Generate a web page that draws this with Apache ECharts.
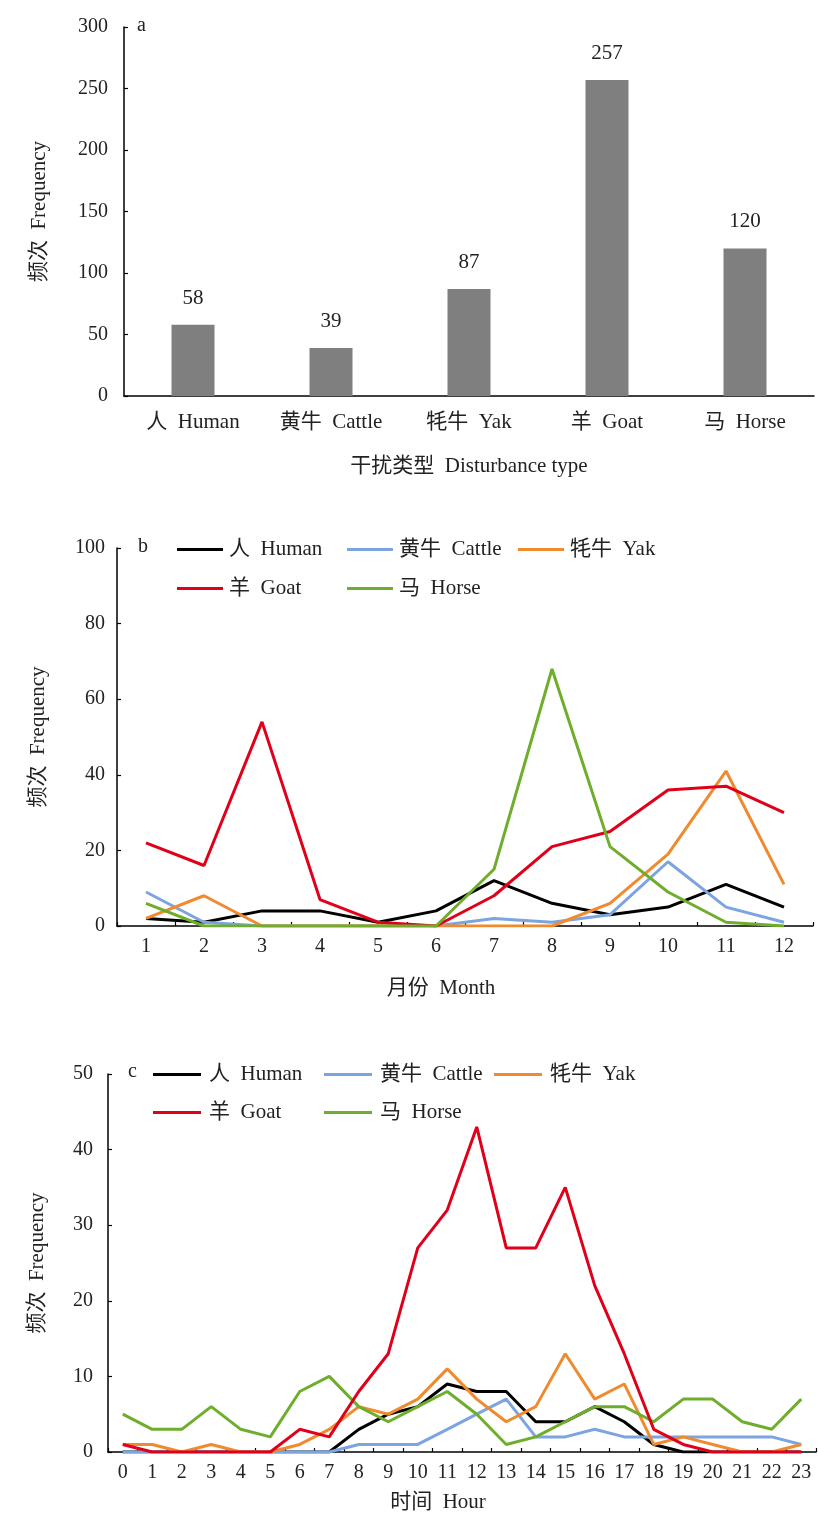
<!DOCTYPE html>
<html>
<head>
<meta charset="utf-8">
<script src="https://cdn.jsdelivr.net/npm/echarts@6/dist/echarts.min.js"></script>
<style>
  html, body { margin: 0; padding: 0; background: #ffffff; }
  #chart { width: 818px; height: 1520px; }
</style>
</head>
<body>
<div id="chart"></div>
<script>
// Disturbance types and total detections (panel a)
const typeLabels = ['人  Human', '黄牛  Cattle', '牦牛  Yak', '羊  Goat', '马  Horse'];
const typeTotals = [58, 39, 87, 257, 120];

// Series names and colours shared by panels b and c
const seriesNames = ['人  Human', '黄牛  Cattle', '牦牛  Yak', '羊  Goat', '马  Horse'];
const seriesColors = ['#000000', '#7ba4e0', '#f08a2e', '#e0001a', '#6fae2c'];

// Monthly frequency (panel b)
const months = ['1', '2', '3', '4', '5', '6', '7', '8', '9', '10', '11', '12'];
const monthHuman  = [2, 1, 4, 4, 1, 4, 12, 6, 3, 5, 11, 5];
const monthCattle = [9, 1, 0, 0, 0, 0, 2, 1, 3, 17, 5, 1];
const monthYak    = [2, 8, 0, 0, 0, 0, 0, 0, 6, 19, 41, 11];
const monthGoat   = [22, 16, 54, 7, 1, 0, 8, 21, 25, 36, 37, 30];
const monthHorse  = [6, 0, 0, 0, 0, 0, 15, 68, 21, 9, 1, 0];

// Hourly frequency (panel c)
const hours = ['0','1','2','3','4','5','6','7','8','9','10','11','12','13','14','15','16','17','18','19','20','21','22','23'];
const hourHuman  = [0, 0, 0, 0, 0, 0, 0, 0, 3, 5, 6, 9, 8, 8, 4, 4, 6, 4, 1, 0, 0, 0, 0, 0];
const hourCattle = [0, 0, 0, 0, 0, 0, 0, 0, 1, 1, 1, 3, 5, 7, 2, 2, 3, 2, 2, 2, 2, 2, 2, 1];
const hourYak    = [1, 1, 0, 1, 0, 0, 1, 3, 6, 5, 7, 11, 7, 4, 6, 13, 7, 9, 1, 2, 1, 0, 0, 1];
const hourGoat   = [1, 0, 0, 0, 0, 0, 3, 2, 8, 13, 27, 32, 43, 27, 27, 35, 22, 13, 3, 1, 0, 0, 0, 0];
const hourHorse  = [5, 3, 3, 6, 3, 2, 8, 10, 6, 4, 6, 8, 5, 1, 2, 4, 6, 6, 4, 7, 7, 4, 3, 7];

const FONT = "'Liberation Serif', 'Noto Sans CJK SC', serif";
const TEXT = '#222222';

const monthSeries = [monthHuman, monthCattle, monthYak, monthGoat, monthHorse];
const hourSeries = [hourHuman, hourCattle, hourYak, hourGoat, hourHorse];

function axisLine() {
  return { show: true, lineStyle: { color: '#000', width: 1.5 } };
}

function valueAxis(gridIndex, max, interval, nameGap, labelMargin) {
  return {
    type: 'value', gridIndex, min: 0, max, interval,
    name: '频次  Frequency', nameLocation: 'middle', nameGap,
    nameTextStyle: { fontFamily: FONT, fontSize: 21, color: TEXT },
    axisLine: axisLine(),
    axisTick: { show: true, inside: true, length: 4, lineStyle: { color: '#000', width: 1.2 } },
    axisLabel: { fontFamily: FONT, fontSize: 20, color: TEXT, margin: labelMargin },
    splitLine: { show: false }
  };
}

function categoryAxis(gridIndex, data, name, nameGap, showTick, namePad) {
  return {
    type: 'category', gridIndex, data, boundaryGap: true,
    name, nameLocation: 'middle', nameGap,
    nameTextStyle: { fontFamily: FONT, fontSize: 21, color: TEXT, padding: namePad },
    axisLine: axisLine(),
    axisTick: { show: showTick, inside: true, length: 4, lineStyle: { color: '#000', width: 1.2 } },
    axisLabel: { fontFamily: FONT, fontSize: showTick ? 20 : 21, color: TEXT, margin: showTick ? 11 : 16, interval: 0 }
  };
}

function legendItem(idx, left, rowY, iconW, textGap) {
  return {
    data: [seriesNames[idx]], left, top: rowY - 11,
    icon: 'rect', itemWidth: iconW, itemHeight: 3, itemGap: 0, padding: 0,
    selectedMode: false,
    textStyle: { fontFamily: FONT, fontSize: 21, color: TEXT, padding: [0, 0, 0, textGap - 5] }
  };
}

const lineSeries = [];
// panel b: horse drawn last
[0, 1, 2, 3, 4].forEach(i => {
  lineSeries.push({
    type: 'line', name: seriesNames[i], xAxisIndex: 1, yAxisIndex: 1,
    data: monthSeries[i], symbol: 'none', color: seriesColors[i],
    lineStyle: { width: 3, color: seriesColors[i] }, z: 2 + i
  });
});
// panel c: goat drawn last
[0, 1, 2, 4, 3].forEach((i, k) => {
  lineSeries.push({
    type: 'line', name: seriesNames[i], xAxisIndex: 2, yAxisIndex: 2,
    data: hourSeries[i], symbol: 'none', color: seriesColors[i],
    lineStyle: { width: 3, color: seriesColors[i] }, z: 2 + k
  });
});

const option = {
  backgroundColor: '#ffffff',
  animation: false,
  grid: [
    { left: 124, width: 690, top: 27, height: 369 },
    { left: 117, width: 696, top: 548, height: 378 },
    { left: 108, width: 708, top: 1074, height: 378 }
  ],
  xAxis: [
    categoryAxis(0, typeLabels, '干扰类型  Disturbance type', 60, false, [0, 0, 0, 0]),
    categoryAxis(1, months, '月份  Month', 52, true, [0, 48, 0, 0]),
    categoryAxis(2, hours, '时间  Hour', 40, true, [0, 48, 0, 0])
  ],
  yAxis: [
    valueAxis(0, 300, 50, 74, 16),
    valueAxis(1, 100, 20, 68, 12),
    valueAxis(2, 50, 10, 60, 15)
  ],
  legend: [
    legendItem(0, 177, 550, 46, 6),
    legendItem(1, 347, 550, 46, 6),
    legendItem(2, 518, 550, 46, 6),
    legendItem(3, 177, 589, 46, 6),
    legendItem(4, 347, 589, 46, 6),
    legendItem(0, 153, 1075, 48, 8),
    legendItem(1, 324, 1075, 48, 8),
    legendItem(2, 494, 1075, 48, 8),
    legendItem(3, 153, 1113, 48, 8),
    legendItem(4, 324, 1113, 48, 8)
  ],
  graphic: [
    { type: 'text', left: 137, top: 16, style: { text: 'a', font: '20px ' + FONT, fill: TEXT } },
    { type: 'text', left: 138, top: 537, style: { text: 'b', font: '20px ' + FONT, fill: TEXT } },
    { type: 'text', left: 128, top: 1062, style: { text: 'c', font: '20px ' + FONT, fill: TEXT } }
  ],
  series: [
    {
      type: 'bar', name: '频次', xAxisIndex: 0, yAxisIndex: 0,
      data: typeTotals, barWidth: 43,
      itemStyle: { color: '#7f7f7f', borderColor: '#a8a8a8', borderWidth: 0 },
      label: { show: true, position: 'top', distance: 16, fontFamily: FONT, fontSize: 21, color: TEXT }
    }
  ].concat(lineSeries)
};

const chart = echarts.init(document.getElementById('chart'), null, { renderer: 'canvas' });
chart.setOption(option);
</script>
</body>
</html>
